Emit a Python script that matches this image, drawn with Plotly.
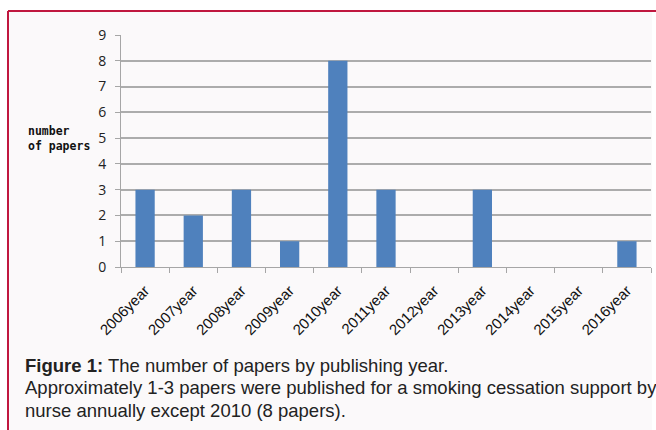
import plotly.graph_objects as go

# Publications per year
years = ["2006year", "2007year", "2008year", "2009year", "2010year", "2011year",
         "2012year", "2013year", "2014year", "2015year", "2016year"]
papers = [3, 2, 3, 1, 8, 3, 0, 3, 0, 0, 1]
y_ticks = list(range(0, 10))

caption_title = "Figure 1:"
caption_line1 = " The number of papers by publishing year."
caption_line2 = "Approximately 1-3 papers were published for a smoking cessation support by"
caption_line3 = "nurse annually except 2010 (8 papers)."

W, H = 656, 430
ML, MR, MT, MB = 121, 5, 35, 163
PW, PH = W - ML - MR, H - MT - MB


def px(x):
    return (x - ML) / PW


def py(y):
    return (H - MB - y) / PH


fig = go.Figure(
    go.Bar(x=years, y=papers, marker=dict(color="#4F81BD", line=dict(width=0)))
)

fig.update_layout(
    width=W, height=H,
    margin=dict(l=ML, r=MR, t=MT, b=MB, pad=0),
    paper_bgcolor="#FFFFFF",
    plot_bgcolor="#FFFFFF",
    bargap=0.6,
    showlegend=False,
    font=dict(family="Liberation Sans", color="#222222"),
)

fig.update_xaxes(
    type="category",
    tickangle=-45,
    tickfont=dict(family="Liberation Sans", size=15, color="#111111"),
    showgrid=False,
    showline=True, linecolor="#A6A6A6", linewidth=1,
    ticks="outside", ticklen=5, tickcolor="#A6A6A6", tickson="boundaries",
    ticklabelstandoff=8,
)
fig.update_yaxes(
    range=[0, 9], tickvals=y_ticks, ticktext=[str(v) for v in y_ticks],
    tickfont=dict(family="Open Sans", size=14, color="#222222"),
    showgrid=True, gridcolor="#ACACAC", gridwidth=1.5,
    zeroline=False,
    showline=True, linecolor="#A6A6A6", linewidth=1,
    ticks="outside", ticklen=5, tickcolor="#A6A6A6",
    ticklabelstandoff=6,
)

shapes = [
    # panel background
    dict(type="rect", xref="paper", yref="paper", layer="below",
         x0=px(9), x1=px(652), y0=py(12), y1=py(H),
         fillcolor="#FBF9FA", line=dict(width=0)),
    # frame lines
    dict(type="line", xref="paper", yref="paper",
         x0=px(8), x1=px(W), y0=py(11), y1=py(11),
         line=dict(color="#C0173F", width=2)),
    dict(type="line", xref="paper", yref="paper",
         x0=px(8), x1=px(8), y0=py(11), y1=py(H),
         line=dict(color="#C0173F", width=2)),
]

cap_font = dict(family="Liberation Sans", size=18.5, color="#222222")
annotations = [
    dict(xref="paper", yref="paper", x=px(26), y=py(138),
         xanchor="left", yanchor="middle", align="left", showarrow=False,
         text="<b>number</b><br><b>of papers</b>",
         font=dict(family="DejaVu Sans Mono", size=11.5, color="#111111")),
    dict(xref="paper", yref="paper", x=px(23), y=py(365),
         xanchor="left", yanchor="middle", align="left", showarrow=False,
         text=f"<b>{caption_title}</b>{caption_line1}", font=cap_font),
    dict(xref="paper", yref="paper", x=px(23), y=py(387),
         xanchor="left", yanchor="middle", align="left", showarrow=False,
         text=caption_line2, font=cap_font),
    dict(xref="paper", yref="paper", x=px(23), y=py(410),
         xanchor="left", yanchor="middle", align="left", showarrow=False,
         text=caption_line3, font=cap_font),
]

fig.update_layout(shapes=shapes, annotations=annotations)

fig.write_html("out.html")
